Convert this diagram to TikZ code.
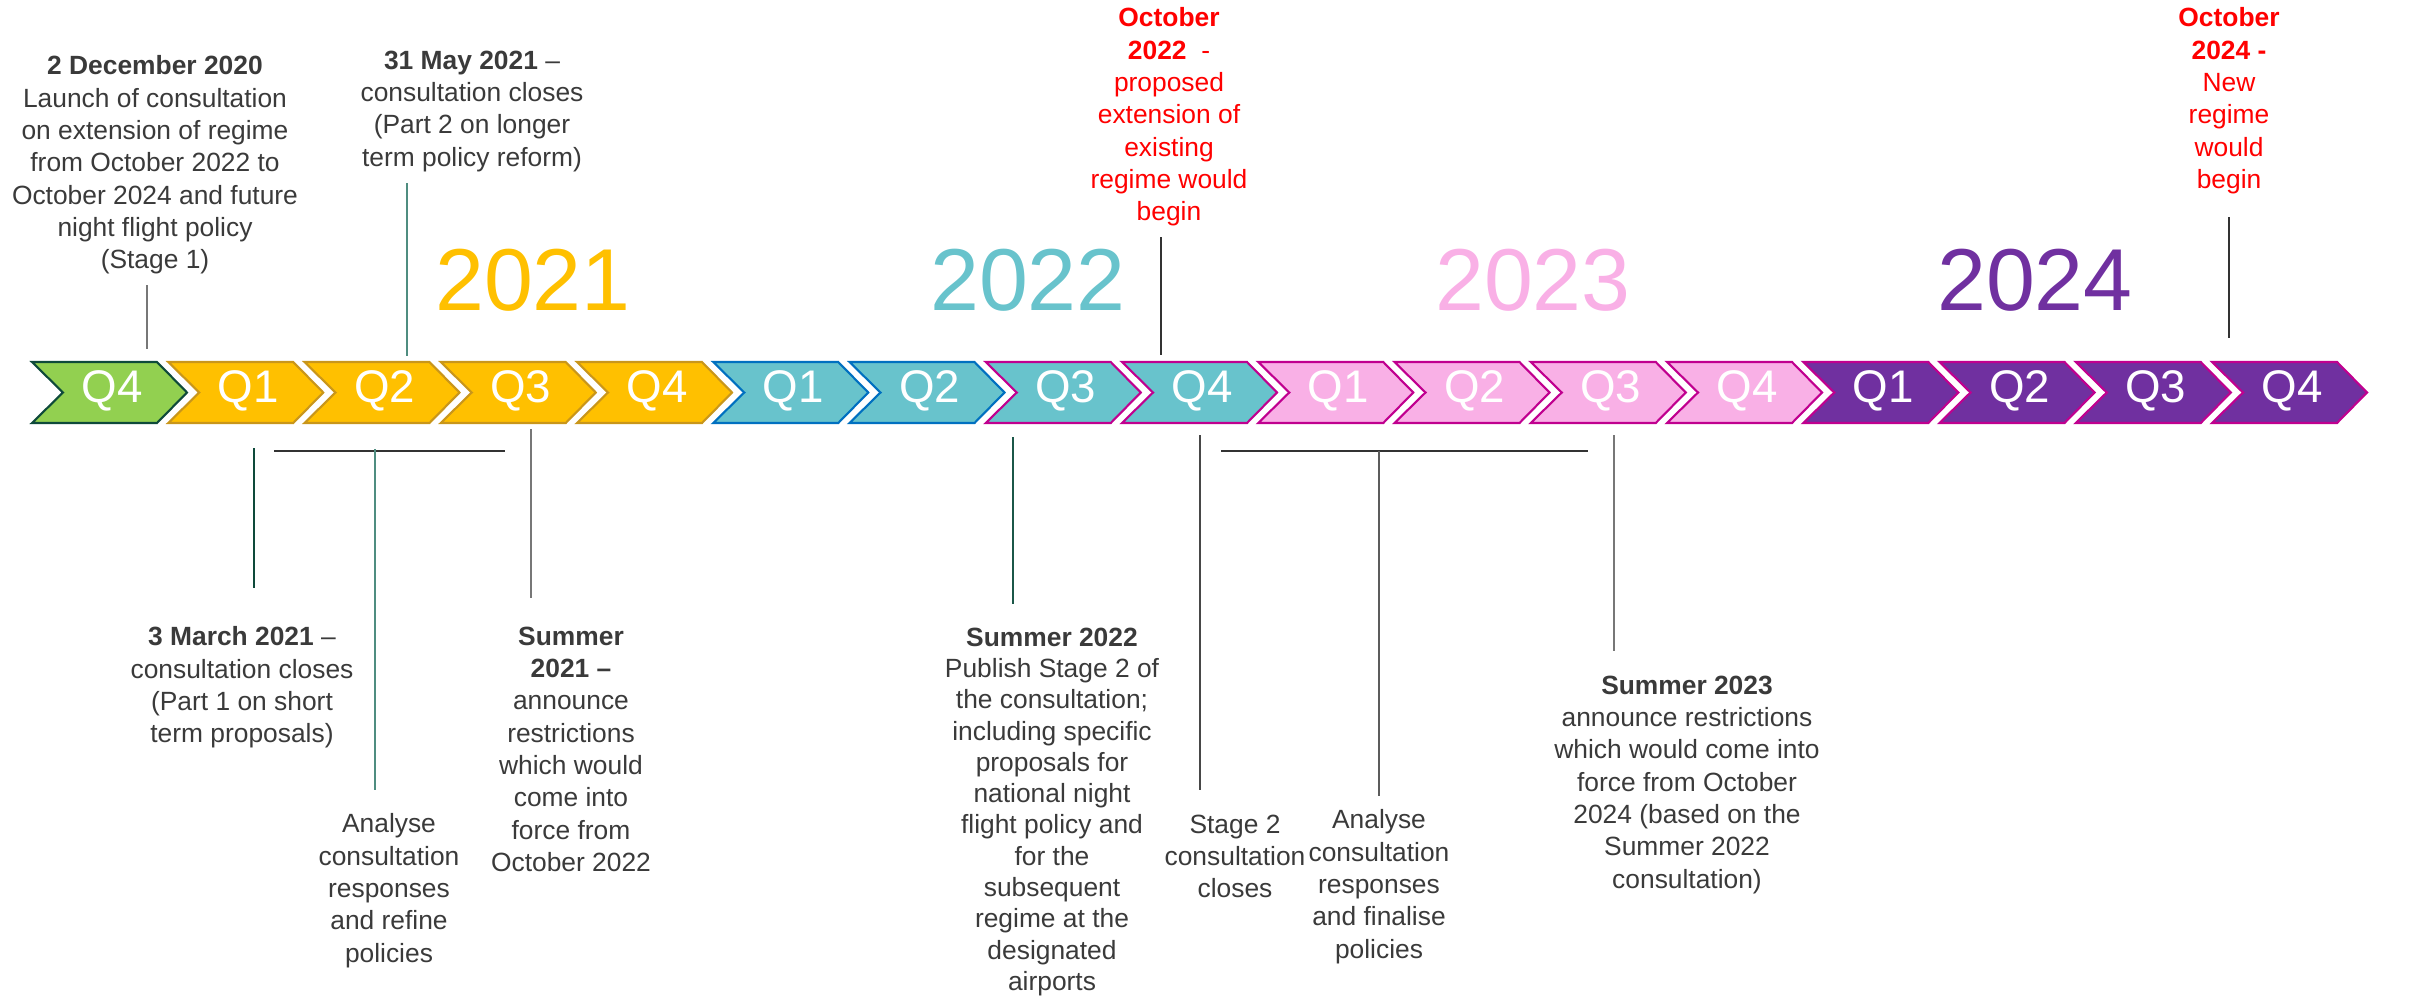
\documentclass[tikz,border=0pt]{standalone}
\usepackage{fontspec}
\setmainfont{Liberation Sans}
\usepackage{tikz}

\definecolor{qgreen}{HTML}{92D050}
\definecolor{dgreen}{HTML}{0E4A3A}
\definecolor{qyellow}{HTML}{FFC000}
\definecolor{dyellow}{HTML}{C9961A}
\definecolor{qteal}{HTML}{68C3CC}
\definecolor{dblue}{HTML}{0070C0}
\definecolor{dmag}{HTML}{C0008F}
\definecolor{qpink}{HTML}{F9B0E6}
\definecolor{qpurple}{HTML}{7030A0}
\definecolor{notegrey}{HTML}{3A3A3A}
\definecolor{tealline}{HTML}{4F8D80}
\definecolor{greyline}{HTML}{777777}
\definecolor{darkline}{HTML}{333333}

\newcommand{\notefont}{\fontsize{7.5}{9.2}\selectfont}

\begin{document}
\begin{tikzpicture}[x=0.01cm,y=-0.01cm,
    note node/.style={align=center,anchor=north,inner sep=0pt,text=notegrey,font=\notefont},
    red node/.style={note node,text=red},
    year node/.style={inner sep=0pt,font=\fontsize{25}{30}\selectfont},
    q node/.style={inner sep=0pt,text=white,font=\fontsize{13}{15}\selectfont},
    chev/.style={line width=0.6pt,line join=miter},
    tick line/.style={line width=0.6pt}]

  \useasboundingbox (0,0) rectangle (2430,1003);

  % quarter chevrons
  \foreach \i/\q/\fc/\dc in {0/4/qgreen/dgreen,
      1/1/qyellow/dyellow,2/2/qyellow/dyellow,3/3/qyellow/dyellow,4/4/qyellow/dyellow,
      5/1/qteal/dblue,6/2/qteal/dblue,7/3/qteal/dmag,8/4/qteal/dmag,
      9/1/qpink/dmag,10/2/qpink/dmag,11/3/qpink/dmag,12/4/qpink/dmag,
      13/1/qpurple/dmag,14/2/qpurple/dmag,15/3/qpurple/dmag,16/4/qpurple/dmag} {
    \pgfmathsetmacro\tl{32+136.25*\i}
    \draw[chev,fill=\fc,draw=\dc] (\tl,362) -- ++(125,0) -- ++(30,30.5) -- ++(-30,30.5)
      -- ++(-125,0) -- ++(31,-30.5) -- cycle;
    \node[q node] (q\i) at (\tl+80,391) {Q\q};
  }

  % years
  \node[year node,text=qyellow] (y21) at (533,280) {2021};
  \node[year node,text=qteal] (y22) at (1028,280) {2022};
  \node[year node,text=qpink] (y23) at (1533,280) {2023};
  \node[year node,text=qpurple] (y24) at (2035,280) {2024};

  % notes above
  \node[note node] (dec) at (155,55) {\textbf{2 December 2020}\\Launch of consultation\\on extension of regime\\from October 2022 to\\October 2024 and future\\night flight policy\\(Stage 1)};
  \node[note node] (may) at (472,50) {\textbf{31 May 2021} --\\consultation closes\\(Part 2 on longer\\term policy reform)};
  \node[red node] (oct22) at (1169,7) {\textbf{October}\\\textbf{2022}\ \ -\\proposed\\extension of\\existing\\regime would\\begin};
  \node[red node] (oct24) at (2229,7) {\textbf{October}\\\textbf{2024 -}\\New\\regime\\would\\begin};

  % notes below
  \node[note node] (mar) at (242,626) {\textbf{3 March 2021} --\\consultation closes\\(Part 1 on short\\term proposals)};
  \node[note node] (ana1) at (389,813) {Analyse\\consultation\\responses\\and refine\\policies};
  \node[note node] (sum21) at (571,626) {\textbf{Summer}\\\textbf{2021 --}\\announce\\restrictions\\which would\\come into\\force from\\October 2022};
  \node[note node,font=\fontsize{7.5}{8.9}\selectfont] (sum22) at (1052,627) {\textbf{Summer 2022}\\Publish Stage 2 of\\the consultation;\\including specific\\proposals for\\national night\\flight policy and\\for the\\subsequent\\regime at the\\designated\\airports};
  \node[note node] (st2) at (1235,814) {Stage 2\\consultation\\closes};
  \node[note node] (ana2) at (1379,809) {Analyse\\consultation\\responses\\and finalise\\policies};
  \node[note node] (sum23) at (1687,675) {\textbf{Summer 2023}\\announce restrictions\\which would come into\\force from October\\2024 (based on the\\Summer 2022\\consultation)};

  % tick ends
  \coordinate (deca) at (147,285);   \coordinate (decb) at (147,349);
  \coordinate (maya) at (407,183);   \coordinate (mayb) at (407,356);
  \coordinate (oct22a) at (1161,237); \coordinate (oct22b) at (1161,355);
  \coordinate (oct24a) at (2229,217); \coordinate (oct24b) at (2229,338);
  \coordinate (mara) at (254,448);   \coordinate (marb) at (254,588);
  \coordinate (br1l) at (274,451);   \coordinate (br1r) at (505,451);
  \coordinate (ana1a) at (375,449);  \coordinate (ana1b) at (375,790);
  \coordinate (sum21a) at (531,429); \coordinate (sum21b) at (531,598);
  \coordinate (sum22a) at (1013,437); \coordinate (sum22b) at (1013,604);
  \coordinate (st2a) at (1200,435);  \coordinate (st2b) at (1200,790);
  \coordinate (br2l) at (1221,451);  \coordinate (br2r) at (1588,451);
  \coordinate (ana2a) at (1379,451); \coordinate (ana2b) at (1379,796);
  \coordinate (sum23a) at (1614,435); \coordinate (sum23b) at (1614,651);

  \draw[tick line,greyline] (deca) -- (decb);
  \draw[tick line,tealline] (maya) -- (mayb);
  \draw[tick line,darkline] (oct22a) -- (oct22b);
  \draw[tick line,darkline] (oct24a) -- (oct24b);
  \draw[tick line,dgreen] (mara) -- (marb);
  \draw[tick line,darkline] (br1l) -- (br1r);
  \draw[tick line,tealline] (ana1a) -- (ana1b);
  \draw[tick line,greyline] (sum21a) -- (sum21b);
  \draw[tick line,dgreen!80!tealline] (sum22a) -- (sum22b);
  \draw[tick line,darkline!90] (st2a) -- (st2b);
  \draw[tick line,darkline] (br2l) -- (br2r);
  \draw[tick line,darkline!80] (ana2a) -- (ana2b);
  \draw[tick line,greyline] (sum23a) -- (sum23b);

\end{tikzpicture}
\end{document}
